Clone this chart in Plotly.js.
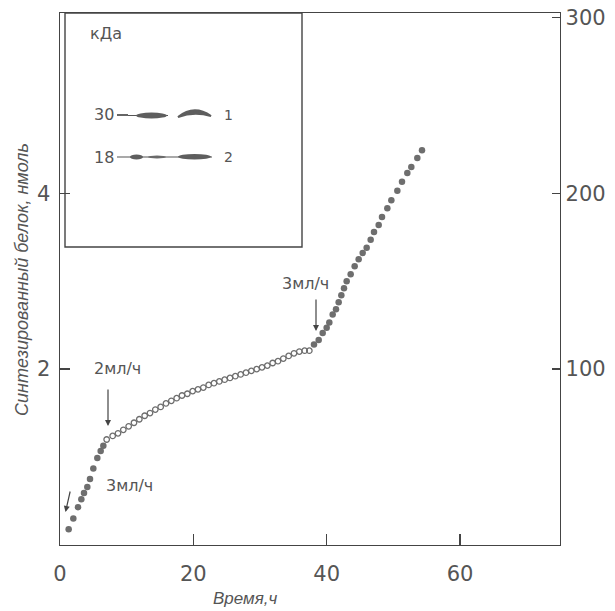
<!DOCTYPE html>
<html><head><meta charset="utf-8">
<script src="https://cdn.plot.ly/plotly-3.0.1.min.js"></script>
<style>html,body{margin:0;padding:0;background:#fff}#chart{width:615px;height:611px}</style>
</head><body><div id="chart"></div>
<script>
// Data: time (h) vs synthesized protein (nmol)
const timeEarly = [1.3, 2.0, 2.7, 3.2, 3.6, 4.1, 4.5, 5.0, 5.6, 6.1, 6.5];
const protEarly = [0.18, 0.30, 0.43, 0.52, 0.59, 0.66, 0.75, 0.87, 0.99, 1.07, 1.13];
const timeMid = [7.0, 7.9, 8.7, 9.5, 10.3, 11.1, 11.9, 12.7, 13.5, 14.3, 15.1, 15.9, 16.7, 17.5, 18.3, 19.1, 19.9, 20.7, 21.5, 22.3, 23.1, 23.9, 24.7, 25.5, 26.3, 27.1, 27.9, 28.7, 29.5, 30.3, 31.1, 31.9, 32.7, 33.5, 34.3, 35.1, 35.9, 36.7, 37.4];
const protMid = [1.20, 1.24, 1.27, 1.31, 1.35, 1.39, 1.43, 1.47, 1.50, 1.54, 1.57, 1.61, 1.64, 1.67, 1.70, 1.72, 1.75, 1.77, 1.79, 1.82, 1.84, 1.86, 1.88, 1.90, 1.92, 1.94, 1.96, 1.98, 2.00, 2.02, 2.04, 2.07, 2.09, 2.12, 2.15, 2.18, 2.20, 2.21, 2.21];
const timeLate = [38.1, 38.8, 39.4, 40.0, 40.4, 40.9, 41.4, 41.8, 42.2, 42.6, 43.0, 43.6, 44.2, 44.8, 45.4, 46.0, 46.6, 47.1, 47.8, 48.3, 49.1, 49.7, 50.6, 51.3, 52.1, 52.7, 53.6, 54.3];
const protLate = [2.28, 2.33, 2.41, 2.47, 2.53, 2.62, 2.68, 2.76, 2.84, 2.92, 3.00, 3.08, 3.17, 3.25, 3.32, 3.38, 3.47, 3.56, 3.64, 3.73, 3.83, 3.92, 4.03, 4.13, 4.23, 4.30, 4.40, 4.49];

const xTicks = [0, 20, 40, 60];
const xTickText = ['0', '20', '40', '60'];
const yTicks = [2, 4];
const yTickText = ['2', '4'];
const y2Ticks = [100, 200, 300];
const y2TickText = ['100', '200', '300'];

const xTitle = 'Время,ч';
const yTitle = 'Синтезированный белок, нмоль';
const insetUnit = 'кДа';
const bandMarkers = ['30', '18'];
const laneLabels = ['1', '2'];
const flowNotes = ['3мл/ч', '2мл/ч', '3мл/ч'];

// geometry helpers (pixel -> paper)
const L = 60, R = 560, T = 13, B = 545;
const X = px => (px - L) / (R - L);
const Y = py => (B - py) / (B - T);

const ink = '#555';
const gray = '#6e6e6e';
const numFont = {family: 'DejaVu Sans', size: 21, color: ink};
const noteFont = {family: 'DejaVu Sans', size: 16, color: ink};

const traces = [
  {x: timeEarly, y: protEarly, mode: 'markers', type: 'scatter',
   marker: {symbol: 'circle', size: 6.5, color: gray, line: {width: 0}}},
  {x: timeMid, y: protMid, mode: 'markers', type: 'scatter',
   marker: {symbol: 'circle-open', size: 5.5, color: gray, line: {width: 1.3, color: gray}}},
  {x: timeLate, y: protLate, mode: 'markers', type: 'scatter',
   marker: {symbol: 'circle', size: 6.5, color: gray, line: {width: 0}}},
  {x: [0], y: [0], yaxis: 'y2', mode: 'markers', marker: {opacity: 0}, hoverinfo: 'skip'}
];

const line = {color: '#444', width: 1.4};
const shapes = [
  // inset box
  {type: 'rect', xref: 'paper', yref: 'paper', x0: X(65), x1: X(302), y0: Y(247), y1: Y(13), line: line},
  // row 30 kDa
  {type: 'line', xref: 'paper', yref: 'paper', x0: X(117), x1: X(128), y0: Y(115), y1: Y(115), line: {color: ink, width: 1.8}},
  {type: 'line', xref: 'paper', yref: 'paper', x0: X(128), x1: X(168), y0: Y(115.5), y1: Y(115.5), line: {color: ink, width: 1}},
  {type: 'circle', xref: 'paper', yref: 'paper', x0: X(136), x1: X(167), y0: Y(118.5), y1: Y(112.5), fillcolor: '#5e5e5e', line: {width: 0}},
  {type: 'path', xref: 'paper', yref: 'paper',
   path: `M ${X(178)} ${Y(117)} Q ${X(194)} ${Y(104)} ${X(211)} ${Y(116)} Q ${X(194)} ${Y(111)} ${X(178)} ${Y(117)} Z`,
   fillcolor: '#5e5e5e', line: {color: '#5e5e5e', width: 2}},
  // row 18 kDa
  {type: 'line', xref: 'paper', yref: 'paper', x0: X(117), x1: X(212), y0: Y(157), y1: Y(157), line: {color: ink, width: 1.2}},
  {type: 'circle', xref: 'paper', yref: 'paper', x0: X(130), x1: X(143), y0: Y(159.5), y1: Y(154.5), fillcolor: '#5e5e5e', line: {width: 0}},
  {type: 'circle', xref: 'paper', yref: 'paper', x0: X(148), x1: X(166), y0: Y(158.5), y1: Y(155.5), fillcolor: '#6a6a6a', line: {width: 0}},
  {type: 'circle', xref: 'paper', yref: 'paper', x0: X(178), x1: X(211), y0: Y(159.5), y1: Y(154), fillcolor: '#5e5e5e', line: {width: 0}}
];

const txt = (text, px, py, font, extra) => Object.assign({text: text, x: X(px), y: Y(py), xref: 'paper', yref: 'paper',
  xanchor: 'center', yanchor: 'middle', showarrow: false, font: font}, extra || {});
const annArrow = {showarrow: true, arrowhead: 2, arrowsize: 1, arrowwidth: 1.2, arrowcolor: '#444', text: '', xref: 'paper', yref: 'paper'};
const annotations = [
  txt(insetUnit, 88, 33, {family: 'DejaVu Sans', size: 16, color: ink}, {xanchor: 'left'}),
  txt(bandMarkers[0], 116, 115, noteFont, {xanchor: 'right'}),
  txt(bandMarkers[1], 116, 157, noteFont, {xanchor: 'right'}),
  txt(laneLabels[0], 228, 115, {family: 'DejaVu Sans', size: 14, color: ink}),
  txt(laneLabels[1], 228, 157, {family: 'DejaVu Sans', size: 14, color: ink}),
  txt(flowNotes[0], 129, 485, noteFont),
  txt(flowNotes[1], 117, 368, noteFont),
  txt(flowNotes[2], 305, 283, noteFont),
  Object.assign({}, annArrow, {x: X(108), y: Y(426), ax: 0, ay: -38}),
  Object.assign({}, annArrow, {x: X(316), y: Y(331), ax: 0, ay: -33}),
  Object.assign({}, annArrow, {x: X(65.5), y: Y(512), ax: 5, ay: -22}),
  txt(yTitle, 22, 280, {family: 'Liberation Sans', size: 18, color: ink, style: 'italic'}, {textangle: -90}),
  txt(xTitle, 245, 598, {family: 'Liberation Sans', size: 17, color: ink, style: 'italic'})
];

const layout = {
  width: 615, height: 611,
  margin: {l: L, r: 615 - R, t: T, b: 611 - B},
  paper_bgcolor: '#fff', plot_bgcolor: '#fff',
  showlegend: false,
  xaxis: {range: [0, 75], tickvals: xTicks, ticktext: xTickText, ticks: 'inside', ticklen: 11, tickwidth: 1.4, tickcolor: '#444',
          showline: true, linecolor: '#444', linewidth: 1.4, mirror: true, showgrid: false, zeroline: false,
          tickfont: numFont, ticklabelstandoff: 9, fixedrange: true},
  yaxis: {range: [0, 6.05], tickvals: yTicks, ticktext: yTickText, ticks: 'inside', ticklen: 10, tickwidth: 1.4, tickcolor: '#444',
          showline: true, linecolor: '#444', linewidth: 1.4, showgrid: false, zeroline: false,
          tickfont: numFont, ticklabelstandoff: 4},
  yaxis2: {range: [0, 302.5], overlaying: 'y', side: 'right', tickvals: y2Ticks, ticktext: y2TickText, ticks: 'inside', ticklen: 8, tickwidth: 1.4, tickcolor: '#444',
           showline: true, linecolor: '#444', linewidth: 1.4, showgrid: false, zeroline: false,
           tickfont: numFont, ticklabelstandoff: 0},
  shapes: shapes,
  annotations: annotations
};

Plotly.newPlot('chart', traces, layout, {staticPlot: true, displayModeBar: false});
</script>
</body></html>
